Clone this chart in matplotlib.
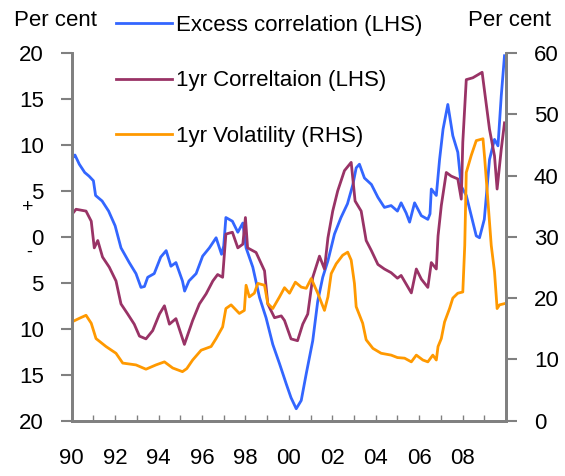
import matplotlib
matplotlib.use("Agg")
import matplotlib.pyplot as plt
from matplotlib.ticker import FixedLocator, FuncFormatter

plt.rcParams['font.family'] = ['Liberation Sans', 'DejaVu Sans']

# Excess correlation (LHS)
exc_year = [1990.00, 1990.05, 1990.15, 1990.35, 1990.6, 1990.8, 1991.0, 1991.1, 1991.4, 1991.7,
            1992.0, 1992.27, 1992.65, 1992.96, 1993.19, 1993.35, 1993.5, 1993.8, 1994.1, 1994.35,
            1994.57, 1994.8, 1995.1, 1995.2, 1995.4, 1995.73, 1996.03, 1996.34, 1996.65, 1996.9,
            1997.0, 1997.1, 1997.4, 1997.65, 1997.88, 1998.03, 1998.34, 1998.65, 1998.95, 1999.26,
            1999.57, 1999.88, 2000.1, 2000.34, 2000.57, 2000.8, 2001.1, 2001.33, 2001.56, 2001.8,
            2002.1, 2002.4, 2002.7, 2002.95, 2003.1, 2003.25, 2003.48, 2003.8, 2004.1, 2004.4,
            2004.71, 2005.0, 2005.17, 2005.4, 2005.56, 2005.79, 2006.1, 2006.4, 2006.5, 2006.56,
            2006.79, 2006.94, 2007.1, 2007.32, 2007.55, 2007.78, 2007.94, 2008.17, 2008.4, 2008.63,
            2008.78, 2009.0, 2009.24, 2009.47, 2009.63, 2009.78, 2009.93]
exc_val = [9.8, 8.6, 8.9, 7.9, 7.0, 6.6, 6.1, 4.5, 3.9, 2.8,
           1.2, -1.2, -2.8, -4.0, -5.5, -5.4, -4.4, -4.0, -2.2, -1.5,
           -3.2, -2.8, -4.8, -5.9, -4.8, -4.0, -2.1, -1.2, -0.1, -1.9,
           -1.0, 2.1, 1.7, 0.5, 1.5, -1.2, -3.3, -6.6, -8.8, -11.7,
           -13.8, -16.0, -17.5, -18.7, -17.8, -14.9, -11.3, -7.0, -4.4, -2.6,
           0.3, 2.1, 3.6, 5.7, 7.5, 7.9, 6.4, 5.7, 4.3, 3.2,
           3.4, 2.8, 3.7, 2.6, 1.6, 3.7, 2.3, 1.9, 2.5, 5.2,
           4.5, 8.4, 11.7, 14.4, 11.0, 9.2, 5.5, 4.5, 2.3, 0.1,
           -0.1, 1.9, 8.4, 10.6, 9.9, 15.3, 19.7]

# 1yr correlation (LHS)
cor_year = [1990.0, 1990.03, 1990.2, 1990.66, 1990.9, 1991.04, 1991.2, 1991.42, 1991.73, 1992.04,
            1992.27, 1992.58, 1992.88, 1993.12, 1993.42, 1993.73, 1994.04, 1994.27, 1994.5, 1994.8,
            1995.19, 1995.57, 1995.88, 1996.19, 1996.5, 1996.72, 1996.95, 1997.1, 1997.4, 1997.65,
            1997.88, 1998.0, 1998.1, 1998.49, 1998.88, 1999.03, 1999.34, 1999.65, 1999.8, 2000.1,
            2000.4, 2000.64, 2000.87, 2001.1, 2001.41, 2001.64, 2001.8, 2002.02, 2002.25, 2002.56,
            2002.87, 2003.05, 2003.33, 2003.56, 2003.8, 2004.1, 2004.4, 2004.71, 2005.0, 2005.17,
            2005.64, 2005.87, 2006.1, 2006.4, 2006.56, 2006.79, 2006.87, 2007.02, 2007.25, 2007.48,
            2007.78, 2007.94, 2008.01, 2008.17, 2008.47, 2008.9, 2009.02, 2009.24, 2009.47, 2009.59,
            2009.78, 2009.93]
cor_val = [4.3, 2.5, 3.0, 2.8, 1.7, -1.2, -0.4, -2.2, -3.3, -4.8,
           -7.3, -8.4, -9.5, -10.8, -11.1, -10.2, -8.4, -7.5, -9.5, -8.9,
           -11.7, -9.1, -7.3, -6.2, -4.8, -4.1, -4.4, 0.3, 0.5, -1.2,
           -0.8, 2.1, -1.2, -1.7, -3.7, -7.3, -8.8, -8.6, -9.1, -11.1,
           -11.3, -9.5, -8.4, -4.4, -2.1, -3.5, -0.1, 2.8, 5.0, 7.2,
           8.1, 3.9, 2.8, -0.4, -1.5, -3.0, -3.5, -3.9, -4.5, -4.2,
           -6.1, -3.5, -4.6, -5.5, -2.8, -3.5, 0.1, 3.4, 7.0, 6.6,
           6.3, 4.1, 10.3, 17.1, 17.3, 17.9, 15.7, 11.7, 8.8, 5.2,
           9.5, 12.4]

# 1yr volatility (RHS)
vol_year = [1990.0, 1990.35, 1990.66, 1990.9, 1991.12, 1991.58, 1992.04, 1992.35, 1992.96, 1993.42,
            1993.88, 1994.27, 1994.65, 1995.1, 1995.3, 1995.57, 1995.96, 1996.42, 1996.65, 1996.95,
            1997.1, 1997.34, 1997.72, 1997.95, 1998.03, 1998.18, 1998.41, 1998.57, 1998.88, 1999.03,
            1999.26, 1999.57, 1999.8, 2000.03, 2000.3, 2000.57, 2000.8, 2001.03, 2001.33, 2001.64,
            2001.8, 2001.95, 2002.18, 2002.48, 2002.71, 2002.87, 2003.02, 2003.1, 2003.4, 2003.56,
            2003.87, 2004.25, 2004.71, 2005.0, 2005.33, 2005.64, 2005.87, 2006.17, 2006.4, 2006.63,
            2006.79, 2006.87, 2007.02, 2007.17, 2007.4, 2007.55, 2007.78, 2008.01, 2008.1, 2008.17,
            2008.4, 2008.63, 2008.94, 2009.02, 2009.17, 2009.32, 2009.47, 2009.59, 2009.7, 2009.93]
vol_val = [16.1, 16.7, 17.2, 15.9, 13.4, 12.1, 11.0, 9.4, 9.1, 8.4,
           9.1, 9.6, 8.6, 8.0, 8.5, 9.9, 11.5, 12.1, 13.4, 15.3,
           18.3, 18.9, 17.5, 18.0, 22.1, 20.2, 20.8, 22.4, 22.1, 19.1,
           18.3, 20.2, 21.7, 20.8, 22.6, 21.8, 21.6, 23.2, 20.8, 18.0,
           20.2, 24.0, 25.6, 27.0, 27.5, 26.2, 22.4, 18.6, 15.9, 13.2,
           11.8, 11.0, 10.7, 10.3, 10.2, 9.6, 10.7, 9.9, 9.6, 10.7,
           9.9, 12.1, 13.4, 16.1, 18.3, 20.0, 20.8, 21.0, 28.6, 40.5,
           43.3, 45.7, 46.0, 42.7, 35.7, 28.6, 24.3, 18.3, 18.9, 19.1]

year_labels = ['90', '92', '94', '96', '98', '00', '02', '04', '06', '08']

grey = '#808080'
fs = 16

fig = plt.figure(figsize=(5.65, 4.76), dpi=100)
ax = fig.add_axes([0.1269, 0.1162, 0.7687, 0.7725])
ax2 = ax.twinx()

l1, = ax.plot(exc_year, exc_val, color='#3366FF', lw=2, label='Excess correlation (LHS)')
l2, = ax.plot(cor_year, cor_val, color='#993366', lw=2, label='1yr Correltaion (LHS)')
l3, = ax2.plot(vol_year, vol_val, color='#FF9900', lw=2, label='1yr Volatility (RHS)')

ax.set_xlim(1990, 2010)
ax.set_ylim(-20, 20)
ax2.set_ylim(0, 60)

ax.xaxis.set_major_locator(FixedLocator(list(range(1990, 2009, 2))))
ax.set_xticklabels(year_labels)
ax.xaxis.set_minor_locator(FixedLocator(list(range(1990, 2011))))
ax.tick_params(axis='x', which='both', direction='in', length=4, width=1, color=grey,
               labelsize=fs, pad=20)
ax.set_yticks(range(-20, 21, 5))
ax.yaxis.set_major_formatter(FuncFormatter(lambda v, p: f"{abs(v):.0f}"))
ax.tick_params(axis='y', direction='out', length=8, width=1.5, color=grey, labelsize=fs, pad=12)
ax2.set_yticks(range(0, 61, 10))
ax2.tick_params(axis='y', direction='out', length=8, width=1.5, color=grey, labelsize=fs, pad=12)

for a in (ax, ax2):
    a.spines['top'].set_visible(False)
    for s in ('left', 'right', 'bottom'):
        a.spines[s].set_color(grey)
        a.spines[s].set_linewidth(2)

fig.text(14 / 565, 1 - 20 / 476, 'Per cent', fontsize=fs, ha='left', va='center')
fig.text(551 / 565, 1 - 20 / 476, 'Per cent', fontsize=fs, ha='right', va='center')
fig.text(28 / 565, 1 - 208 / 476, '+', fontsize=14, ha='center', va='center')
fig.text(29 / 565, 1 - 252 / 476, '-', fontsize=13, ha='center', va='center')

fig.legend(handles=[l1, l2, l3], loc='upper left', bbox_to_anchor=(116 / 565, 1 - 15 / 476),
           frameon=False, fontsize=fs, borderpad=0, borderaxespad=0, handlelength=2.5,
           handletextpad=0.2, labelspacing=1.55)

fig.savefig('out.png', dpi=100)
